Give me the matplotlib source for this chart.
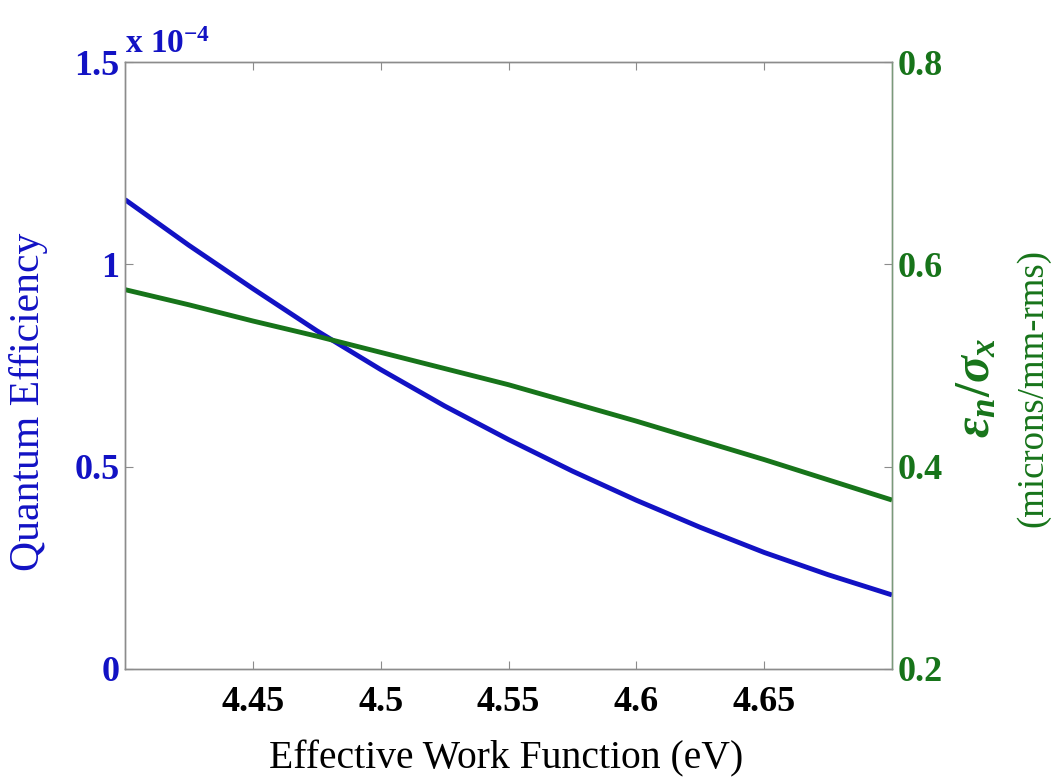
import numpy as np
import matplotlib
matplotlib.use('Agg')
import matplotlib.pyplot as plt

# values
work_function = [4.400, 4.425, 4.450, 4.475, 4.500, 4.525, 4.550,
                 4.575, 4.600, 4.625, 4.650, 4.675, 4.700]
qe_e4 = [1.160, 1.047, 0.940, 0.836, 0.740, 0.650, 0.567,
         0.489, 0.417, 0.350, 0.288, 0.233, 0.183]
emit_ratio = [0.575, 0.560, 0.544, 0.529, 0.513, 0.497, 0.481,
              0.463, 0.445, 0.426, 0.407, 0.387, 0.367]

x_ticks = [4.45, 4.5, 4.55, 4.6, 4.65]
x_ticklabels = ['4.45', '4.5', '4.55', '4.6', '4.65']
left_ticks = [0, 0.5, 1, 1.5]
left_ticklabels = ['0', '0.5', '1', '1.5']
right_ticks = [0.2, 0.4, 0.6, 0.8]
right_ticklabels = ['0.2', '0.4', '0.6', '0.8']

blue = '#1212c4'
green = '#17741a'
spine_gray = '#8c8c8c'

plt.rcParams['font.family'] = ['Liberation Serif', 'DejaVu Serif']
plt.rcParams['mathtext.fontset'] = 'custom'
plt.rcParams['mathtext.rm'] = 'Liberation Serif:bold'
plt.rcParams['mathtext.it'] = 'Liberation Serif:italic:bold'
plt.rcParams['mathtext.bf'] = 'Liberation Serif:bold'

fig = plt.figure(figsize=(10.54, 7.84), dpi=100)
ax = fig.add_axes([0.1186, 0.1467, 0.7277, 0.7742])
ax2 = ax.twinx()

ax.plot(work_function, qe_e4, color=blue, lw=3.5, solid_capstyle='butt')
ax2.plot(work_function, emit_ratio, color=green, lw=3.5, solid_capstyle='butt')

ax.set_xlim(4.4, 4.7)
ax.set_ylim(0, 1.5)
ax2.set_ylim(0.2, 0.8)

tick_fs = 26
ax.set_xticks(x_ticks)
ax.set_xticklabels(x_ticklabels, fontsize=tick_fs, fontweight='bold', color='black')
ax.set_yticks(left_ticks)
ax.set_yticklabels(left_ticklabels, fontsize=tick_fs, fontweight='bold', color=blue)
ax2.set_yticks(right_ticks)
ax2.set_yticklabels(right_ticklabels, fontsize=tick_fs, fontweight='bold', color=green)

ax.tick_params(axis='x', direction='in', length=6, width=0.8, color=spine_gray,
               top=True, pad=12)
ax.tick_params(axis='y', direction='in', length=6, width=0.8, color=spine_gray, pad=4)
ax2.tick_params(axis='y', direction='in', length=6, width=0.8, color=spine_gray, pad=4)

for a in (ax, ax2):
    for s in a.spines.values():
        s.set_color(spine_gray)
        s.set_linewidth(1.0)
ax2.spines['right'].set_color('#7a9a7a')

fig.text(0.119, 0.932, r'x 10$^{-4}$', color=blue, fontsize=24, fontweight='bold',
         ha='left', va='baseline')

fig.text(0.480, 0.032, 'Effective Work Function (eV)', fontsize=28.5,
         ha='center', va='center', color='black')
fig.text(0.027, 0.487, 'Quantum Efficiency', fontsize=30, rotation=90,
         ha='center', va='center', color=blue)
fig.text(0.927, 0.505, r'$\varepsilon_n/\sigma_x$', fontsize=36, rotation=90,
         ha='center', va='center', color=green)
fig.text(0.980, 0.505, '(microns/mm-rms)', fontsize=26.5, rotation=90,
         ha='center', va='center', color=green)

fig.savefig('out.png', dpi=100, facecolor='white')
